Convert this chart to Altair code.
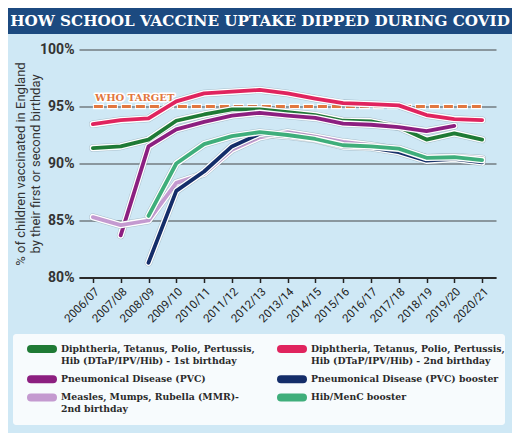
import altair as alt
import pandas as pd

# ---------------- data ----------------
years = ["2006/07", "2007/08", "2008/09", "2009/10", "2010/11", "2011/12", "2012/13",
         "2013/14", "2014/15", "2015/16", "2016/17", "2017/18", "2018/19", "2019/20", "2020/21"]

dtap_1st = [91.35, 91.5, 92.1, 93.75, 94.3, 94.75, 94.75, 94.5, 94.25, 93.75, 93.7, 93.2, 92.1, 92.65, 92.1]
dtap_2nd = [93.45, 93.8, 93.95, 95.45, 96.15, 96.3, 96.45, 96.15, 95.7, 95.3, 95.2, 95.1, 94.25, 93.9, 93.8]
pcv = [None, 83.7, 91.5, 93.0, 93.65, 94.2, 94.45, 94.2, 94.0, 93.5, 93.4, 93.2, 92.85, 93.3, None]
pcv_booster = [None, None, 81.3, 87.6, 89.3, 91.5, 92.6, 92.4, 92.1, 91.5, 91.4, 91.0, 90.25, 90.4, 90.1]
mmr = [85.3, 84.6, 85.0, 88.3, 89.1, 91.2, 92.3, 92.75, 92.35, 91.9, 91.6, 91.2, 90.5, 90.6, 90.45]
hib_menc = [None, None, 85.4, 90.0, 91.7, 92.4, 92.75, 92.5, 92.15, 91.6, 91.5, 91.3, 90.5, 90.55, 90.3]

series_names = [
    "Diphtheria, Tetanus, Polio, Pertussis,|Hib (DTaP/IPV/Hib) - 1st birthday",
    "Diphtheria, Tetanus, Polio, Pertussis,|Hib (DTaP/IPV/Hib) - 2nd birthday",
    "Pneumonical Disease (PVC)",
    "Pneumonical Disease (PVC) booster",
    "Measles, Mumps, Rubella (MMR)-|2nd birthday",
    "Hib/MenC booster",
]
series_values = [dtap_1st, dtap_2nd, pcv, pcv_booster, mmr, hib_menc]
series_colors = ["#1f7a35", "#e0245e", "#8c1f80", "#142d69", "#c49ad0", "#3fae7b"]
draw_order = [0, 2, 4, 3, 5, 1]

who_target = 95
who_label = "WHO TARGET"
title_text = "HOW SCHOOL VACCINE UPTAKE DIPPED DURING COVID"
y_title = ["% of children vaccinated in England", "by their first or second birthday"]
y_ticks = [80, 85, 90, 95, 100]

rows = []
for name, vals in zip(series_names, series_values):
    for yr, v in zip(years, vals):
        if v is not None:
            rows.append({"year": yr, "value": v, "series": name})
df = pd.DataFrame(rows)
who_df = pd.DataFrame({"year": years, "value": [who_target] * len(years)})
who_lbl_df = pd.DataFrame({"year": [years[0]], "value": [who_target], "label": [who_label]})
title_df = pd.DataFrame({"t": [title_text]})

# legend table: two columns, rows stacked by number of text lines
LINE_H, ROW_GAP = 12.0, 6.2
n_lines = [s.count("|") + 1 for s in series_names]
row_lines = [max(n_lines[2 * r], n_lines[2 * r + 1]) for r in range(3)]
row_pos = [sum(row_lines[:r]) * LINE_H + r * ROW_GAP for r in range(3)]
leg_df = pd.DataFrame({
    "series": series_names,
    "col": [i % 2 for i in range(6)],
    "pos": [row_pos[i // 2] for i in range(6)],
})

SERIF = "DejaVu Serif"
SANS = "Roboto"

W, H = 417, 228

x_enc = alt.X("year:N", sort=years, title=None,
              scale=alt.Scale(type="point", padding=0.5, domain=years),
              axis=alt.Axis(labelAngle=-45, labelFontSize=11.5, labelColor="#222222", labelFont=SANS,
                            tickColor="#222222", tickSize=5, tickWidth=1.5,
                            domainColor="#2a2a2a", domainWidth=2, grid=False, labelPadding=3))
y_enc = alt.Y("value:Q",
              scale=alt.Scale(domain=[80, 100], nice=False, zero=False),
              axis=alt.Axis(values=y_ticks, labelExpr="datum.value + '%'", labelFontSize=14,
                            labelFontWeight="bold", labelColor="#333333", labelFont=SANS,
                            labelPadding=5, ticks=False, domain=False, grid=True,
                            gridColor="#8a979e", gridWidth=2,
                            title=y_title, titleFontSize=13, titleFontWeight="normal",
                            titleColor="#333333", titleFont=SANS, titleX=-65, titleY=H / 2,
                            titleAngle=-90, titleAlign="center", titleBaseline="top",
                            titleLineHeight=15))

color_scale = alt.Scale(domain=series_names, range=series_colors)

base = alt.Chart(df)
layers = []

# title banner
layers.append(alt.Chart(title_df).mark_rect(color="#1c4a80").encode(
    x=alt.value(-71), x2=alt.value(433), y=alt.value(-41.5), y2=alt.value(-15.5)))
layers.append(alt.Chart(title_df).mark_text(font=SERIF, fontSize=15.2, fontWeight="bold",
                                            color="white", align="center", baseline="middle").encode(
    x=alt.value(181), y=alt.value(-28.5), text="t:N"))

# WHO target
who_base = alt.Chart(who_df).encode(x=x_enc, y=y_enc)
layers.append(who_base.mark_line(color="white", strokeWidth=5.5, strokeDash=[11, 3]))
layers.append(who_base.mark_line(color="#e2773f", strokeWidth=3, strokeDash=[9, 5], strokeDashOffset=-1))
lbl_base = alt.Chart(who_lbl_df).encode(x=x_enc, y=y_enc, text="label:N")
layers.append(lbl_base.mark_text(font=SERIF, fontSize=10, fontWeight="bold", align="left", dx=2, dy=-9,
                                 color="white", stroke="white", strokeWidth=3, strokeJoin="round"))
layers.append(lbl_base.mark_text(font=SERIF, fontSize=10, fontWeight="bold", align="left", dx=2, dy=-9,
                                 color="#e2773f"))

for i in draw_order:
    name = series_names[i]
    sb = base.transform_filter(alt.datum.series == name)
    layers.append(sb.mark_line(strokeWidth=7.5, strokeCap="round", strokeJoin="round",
                               color="#5d7282", opacity=0.35).encode(x=x_enc, y=y_enc))
    layers.append(sb.mark_line(strokeWidth=6.5, strokeCap="round", strokeJoin="round").encode(
        x=x_enc, y=y_enc, color=alt.value("white")))
    layers.append(sb.mark_line(strokeWidth=3.8, strokeCap="round", strokeJoin="round").encode(
        x=x_enc, y=y_enc,
        color=alt.Color("series:N", scale=color_scale, legend=None)))

main = alt.layer(*layers)

# ---- legend panel (drawn from the legend table through its own scales) ----
lx = alt.X("col:O", scale=alt.Scale(type="point", domain=[0, 1], range=[-37, 213], padding=0), axis=None)
ly = alt.Y("pos:Q", scale=alt.Scale(domain=[0, 100], range=[299.5, 399.5], zero=False, nice=False), axis=None)
leg_base = alt.Chart(leg_df)
leg_box = alt.Chart(title_df).mark_rect(color="white", opacity=0.82, cornerRadius=3).encode(
    x=alt.value(-66), x2=alt.value(426), y=alt.value(284.5), y2=alt.value(375.5))
leg_sym = leg_base.mark_point(shape="stroke", size=484, strokeWidth=8, filled=False, opacity=1,
                              strokeCap="round").encode(
    x=lx, y=ly, color=alt.Color("series:N", scale=color_scale, legend=None))
leg_txt = leg_base.mark_text(align="left", baseline="line-top", dx=19, dy=-6.0, lineBreak="|",
                             lineHeight=LINE_H, font=SERIF, fontSize=9.3, fontWeight="bold",
                             color="#2a2a2a").encode(x=lx, y=ly, text="series:N")
legend_layer = alt.layer(leg_box, leg_sym, leg_txt)

chart = alt.layer(main, legend_layer).resolve_scale(x="independent", y="independent").properties(
    width=W, height=H,
    autosize=alt.AutoSizeParams(type="none"),
    padding={"left": 71, "top": 41.5, "right": 16, "bottom": 155.5},
    background="#cfe8f5",
).configure_view(stroke=None)

chart.save("out.html", embed_options={"renderer": "svg", "actions": False})
